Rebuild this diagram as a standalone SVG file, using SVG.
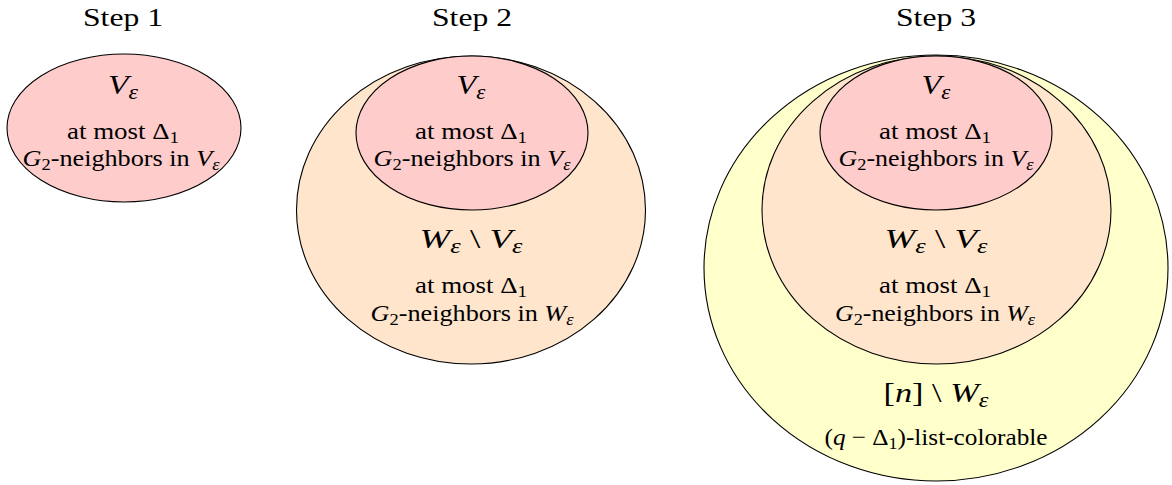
<svg xmlns="http://www.w3.org/2000/svg" width="1172" height="485" viewBox="0 0 1172 485">
<style>
  text { font-family: "Liberation Serif", "DejaVu Serif", serif; fill: #000; text-anchor: middle; }
  .title { font-size: 26px; }
  .big { font-size: 28px; }
  .body { font-size: 24px; }
  .i { font-style: italic; }
  .sb { font-size: 17px; }
  .sbb { font-size: 20px; }
  .e { stroke: #000; stroke-width: 1.1; }
  .red { fill: #FFCCCC; }
  .orange { fill: #FFE5CC; }
  .yellow { fill: #FFFFCC; }
</style>
<rect width="1172" height="485" fill="#fff"/>

<g id="titles">
  <text class="title" x="123" y="26" textLength="80" lengthAdjust="spacingAndGlyphs">Step 1</text>
  <text class="title" x="472" y="26" textLength="80" lengthAdjust="spacingAndGlyphs">Step 2</text>
  <text class="title" x="936" y="26" textLength="80" lengthAdjust="spacingAndGlyphs">Step 3</text>
</g>

<g id="step1-V">
  <ellipse class="e red" cx="124" cy="128" rx="117" ry="74"/>
  <text class="big" x="123" y="94" textLength="30" lengthAdjust="spacingAndGlyphs"><tspan class="i">V</tspan><tspan class="i sbb" dy="5">ε</tspan></text>
  <text class="body" x="123" y="139" textLength="112" lengthAdjust="spacingAndGlyphs">at most Δ<tspan class="sb" dy="4">1</tspan></text>
  <text class="body" x="121" y="166" textLength="197" lengthAdjust="spacingAndGlyphs"><tspan class="i">G</tspan><tspan class="sb" dy="4">2</tspan><tspan dy="-4">-neighbors in </tspan><tspan class="i">V</tspan><tspan class="i sb" dy="4">ε</tspan></text>
</g>

<g id="step2-W">
  <ellipse class="e orange" cx="471" cy="210" rx="174.5" ry="154"/>
  <text class="big" x="471" y="248" textLength="103" lengthAdjust="spacingAndGlyphs"><tspan class="i">W</tspan><tspan class="i sbb" dy="5">ε</tspan><tspan dy="-5"> \ </tspan><tspan class="i">V</tspan><tspan class="i sbb" dy="5">ε</tspan></text>
  <text class="body" x="471" y="293" textLength="112" lengthAdjust="spacingAndGlyphs">at most Δ<tspan class="sb" dy="4">1</tspan></text>
  <text class="body" x="472" y="321" textLength="203" lengthAdjust="spacingAndGlyphs"><tspan class="i">G</tspan><tspan class="sb" dy="4">2</tspan><tspan dy="-4">-neighbors in </tspan><tspan class="i">W</tspan><tspan class="i sb" dy="4">ε</tspan></text>
</g>
<g id="step2-V">
  <ellipse class="e red" cx="472" cy="133" rx="116" ry="77"/>
  <text class="big" x="471" y="94" textLength="29" lengthAdjust="spacingAndGlyphs"><tspan class="i">V</tspan><tspan class="i sbb" dy="5">ε</tspan></text>
  <text class="body" x="471" y="139" textLength="112" lengthAdjust="spacingAndGlyphs">at most Δ<tspan class="sb" dy="4">1</tspan></text>
  <text class="body" x="472" y="166" textLength="197" lengthAdjust="spacingAndGlyphs"><tspan class="i">G</tspan><tspan class="sb" dy="4">2</tspan><tspan dy="-4">-neighbors in </tspan><tspan class="i">V</tspan><tspan class="i sb" dy="4">ε</tspan></text>
</g>

<g id="step3-rest">
  <ellipse class="e yellow" cx="936" cy="268" rx="232" ry="213"/>
  <text class="big" x="936" y="402" textLength="105" lengthAdjust="spacingAndGlyphs"><tspan>[</tspan><tspan class="i">n</tspan><tspan>] \ </tspan><tspan class="i">W</tspan><tspan class="i sbb" dy="5">ε</tspan></text>
  <text class="body" x="936" y="445" textLength="223" lengthAdjust="spacingAndGlyphs">(<tspan class="i">q</tspan> − Δ<tspan class="sb" dy="4">1</tspan><tspan dy="-4">)-list-colorable</tspan></text>
</g>
<g id="step3-W">
  <ellipse class="e orange" cx="936.5" cy="210" rx="174.5" ry="154"/>
  <text class="big" x="936" y="248" textLength="103" lengthAdjust="spacingAndGlyphs"><tspan class="i">W</tspan><tspan class="i sbb" dy="5">ε</tspan><tspan dy="-5"> \ </tspan><tspan class="i">V</tspan><tspan class="i sbb" dy="5">ε</tspan></text>
  <text class="body" x="935" y="293" textLength="112" lengthAdjust="spacingAndGlyphs">at most Δ<tspan class="sb" dy="4">1</tspan></text>
  <text class="body" x="935" y="321" textLength="200" lengthAdjust="spacingAndGlyphs"><tspan class="i">G</tspan><tspan class="sb" dy="4">2</tspan><tspan dy="-4">-neighbors in </tspan><tspan class="i">W</tspan><tspan class="i sb" dy="4">ε</tspan></text>
</g>
<g id="step3-V">
  <ellipse class="e red" cx="936" cy="133" rx="116" ry="77"/>
  <text class="big" x="936" y="94" textLength="29" lengthAdjust="spacingAndGlyphs"><tspan class="i">V</tspan><tspan class="i sbb" dy="5">ε</tspan></text>
  <text class="body" x="935" y="139" textLength="112" lengthAdjust="spacingAndGlyphs">at most Δ<tspan class="sb" dy="4">1</tspan></text>
  <text class="body" x="936" y="166" textLength="195" lengthAdjust="spacingAndGlyphs"><tspan class="i">G</tspan><tspan class="sb" dy="4">2</tspan><tspan dy="-4">-neighbors in </tspan><tspan class="i">V</tspan><tspan class="i sb" dy="4">ε</tspan></text>
</g>
</svg>
